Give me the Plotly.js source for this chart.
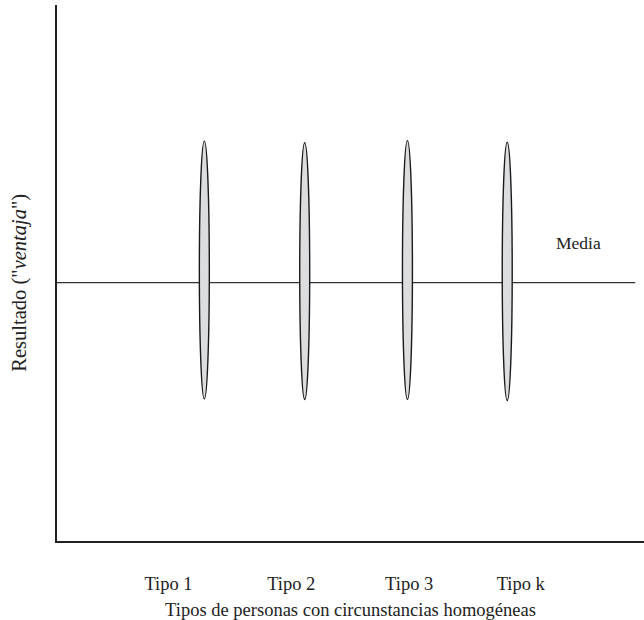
<!DOCTYPE html>
<html>
<head>
<meta charset="utf-8">
<script src="https://cdn.plot.ly/plotly-3.0.1.min.js"></script>
<style>html,body{margin:0;padding:0;background:#fff;}#chart{width:644px;height:620px;}</style>
</head>
<body>
<div id="chart"></div>
<script>
// Data
const typeLabels = ["Tipo 1", "Tipo 2", "Tipo 3", "Tipo k"];
const labelPositions = [19.0, 39.9, 60.0, 79.0];
const ellipseCenters = [25.1, 42.2, 59.7, 76.7];
const ellipseTops = [74.6, 74.3, 74.7, 74.4];
const ellipseBottoms = [26.5, 26.4, 26.4, 26.2];
const meanValue = 48.2;
const meanLineX = [0, 98.5];
const meanLabel = "Media";
const meanLabelPos = [88.8, 55.6];
const xTitle = 'Tipos de personas con circunstancias homogéneas';
const yTitle = 'Resultado ("<i>ventaja</i>")';

const halfWidth = 0.85;
const shapes = ellipseCenters.map((c, i) => ({
  type: 'circle', xref: 'x', yref: 'y',
  x0: c - halfWidth, x1: c + halfWidth,
  y0: ellipseBottoms[i], y1: ellipseTops[i],
  fillcolor: '#dcdddf',
  line: {color: '#1a1a1a', width: 1.4},
  layer: 'above'
}));

const traces = [{
  x: meanLineX,
  y: meanLineX.map(() => meanValue),
  mode: 'lines',
  line: {color: '#333333', width: 1.4},
  hoverinfo: 'skip',
  showlegend: false
}];

const fam = 'Liberation Serif';
const font = {family: fam, color: '#222', size: 18.5};

const layout = {
  width: 644, height: 620,
  margin: {l: 57, r: 0, t: 5, b: 78.5},
  paper_bgcolor: '#fff', plot_bgcolor: '#fff',
  font: font,
  showlegend: false,
  xaxis: {
    range: [0, 100], showgrid: false, zeroline: false,
    showline: true, linecolor: '#222', linewidth: 1.6,
    tickmode: 'array', tickvals: labelPositions, ticktext: typeLabels,
    ticks: 'outside', ticklen: 25, tickcolor: 'rgba(0,0,0,0)',
    tickfont: font,
    title: {text: xTitle, font: font, standoff: 12},
    automargin: false
  },
  yaxis: {
    range: [0, 100], showgrid: false, zeroline: false,
    showline: true, linecolor: '#222', linewidth: 1.6,
    showticklabels: false, ticks: '',
    automargin: false
  },
  shapes: shapes,
  annotations: [{
    x: meanLabelPos[0], y: meanLabelPos[1], xref: 'x', yref: 'y',
    text: meanLabel, showarrow: false, font: {family: fam, color: '#222', size: 17.5}
  }, {
    x: -0.063, y: 0.482, xref: 'paper', yref: 'paper',
    xanchor: 'center', yanchor: 'middle',
    text: yTitle, textangle: -90, showarrow: false,
    font: {family: fam, color: '#222', size: 20.5}
  }]
};

Plotly.newPlot('chart', traces, layout, {staticPlot: true, displayModeBar: false});
</script>
</body>
</html>
